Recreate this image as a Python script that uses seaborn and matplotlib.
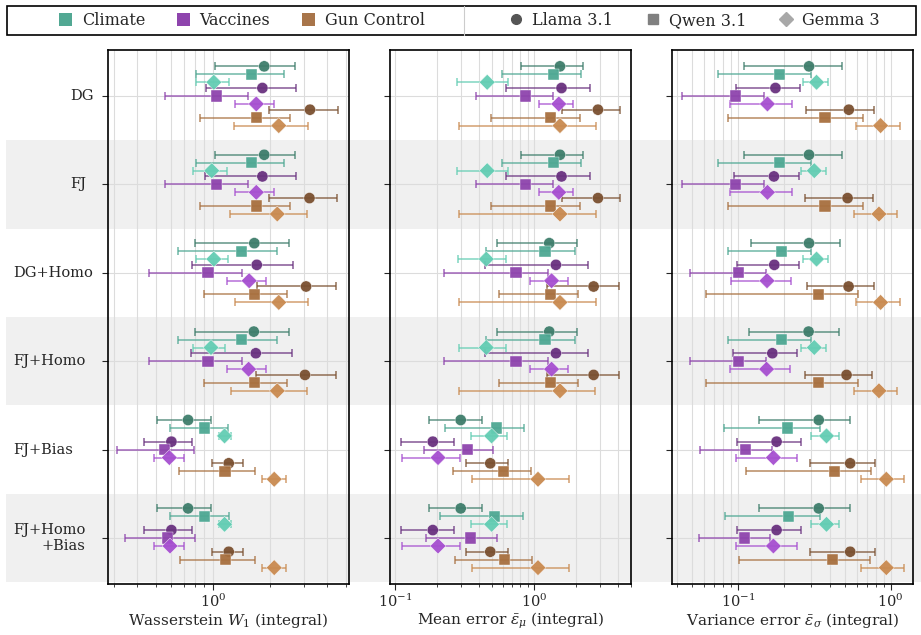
import numpy as np
import pandas as pd
import matplotlib
matplotlib.use('Agg')
import matplotlib.pyplot as plt
import matplotlib.transforms as mtransforms
from matplotlib.patches import Rectangle, Patch
from matplotlib.lines import Line2D
import seaborn as sns

# categories
methods = ['DG', 'FJ', 'DG+Homo', 'FJ+Homo', 'FJ+Bias', 'FJ+Homo\n+Bias']
topics = ['Climate', 'Vaccines', 'Gun Control']
models = ['Llama 3.1', 'Qwen 3.1', 'Gemma 3']

# each row: Climate (Llama, Qwen, Gemma), Vaccines (...), Gun Control (...)
w1_mean = [[1.86, 1.59, 1.01, 1.82, 1.04, 1.69, 3.24, 1.70, 2.22],
           [1.86, 1.59, 0.985, 1.82, 1.04, 1.69, 3.22, 1.70, 2.18],
           [1.65, 1.41, 1.01, 1.70, 0.941, 1.55, 3.09, 1.66, 2.22],
           [1.64, 1.41, 0.976, 1.68, 0.941, 1.54, 3.05, 1.66, 2.18],
           [0.739, 0.901, 1.15, 0.604, 0.557, 0.589, 1.21, 1.157, 2.10],
           [0.739, 0.901, 1.15, 0.604, 0.575, 0.594, 1.21, 1.166, 2.10]]
w1_lo = [[1.02, 0.818, 0.814, 0.918, 0.562, 1.30, 1.97, 0.859, 1.29],
         [1.02, 0.818, 0.785, 0.91, 0.562, 1.30, 1.96, 0.859, 1.23],
         [0.808, 0.654, 0.818, 0.775, 0.463, 1.19, 1.71, 0.897, 1.30],
         [0.80, 0.654, 0.788, 0.763, 0.463, 1.19, 1.68, 0.897, 1.24],
         [0.51, 0.597, 1.07, 0.432, 0.313, 0.488, 0.993, 0.66, 1.82],
         [0.51, 0.597, 1.07, 0.432, 0.346, 0.49, 0.993, 0.668, 1.82]]
w1_hi = [[2.70, 2.36, 1.21, 2.73, 1.52, 2.09, 4.53, 2.54, 3.18],
         [2.70, 2.36, 1.18, 2.72, 1.52, 2.09, 4.50, 2.54, 3.12],
         [2.51, 2.16, 1.195, 2.63, 1.42, 1.91, 4.46, 2.44, 3.16],
         [2.50, 2.17, 1.16, 2.61, 1.42, 1.91, 4.42, 2.44, 3.12],
         [0.972, 1.205, 1.25, 0.779, 0.798, 0.701, 1.43, 1.66, 2.41],
         [0.972, 1.21, 1.25, 0.779, 0.808, 0.701, 1.43, 1.66, 2.41]]

mu_mean = [[1.54, 1.38, 0.461, 1.58, 0.871, 1.51, 2.89, 1.32, 1.54],
           [1.54, 1.38, 0.461, 1.58, 0.871, 1.51, 2.89, 1.32, 1.54],
           [1.29, 1.20, 0.454, 1.44, 0.742, 1.34, 2.69, 1.32, 1.54],
           [1.29, 1.20, 0.454, 1.44, 0.742, 1.34, 2.69, 1.32, 1.54],
           [0.297, 0.535, 0.496, 0.187, 0.333, 0.204, 0.485, 0.601, 1.07],
           [0.297, 0.521, 0.496, 0.187, 0.351, 0.204, 0.485, 0.618, 1.07]]
mu_lo = [[0.802, 0.591, 0.279, 0.632, 0.38, 1.08, 1.58, 0.493, 0.29],
         [0.802, 0.591, 0.279, 0.632, 0.38, 1.08, 1.58, 0.493, 0.287],
         [0.542, 0.449, 0.285, 0.446, 0.224, 0.931, 1.25, 0.563, 0.29],
         [0.542, 0.449, 0.287, 0.448, 0.224, 0.931, 1.25, 0.563, 0.287],
         [0.177, 0.229, 0.351, 0.11, 0.162, 0.112, 0.324, 0.26, 0.36],
         [0.177, 0.212, 0.351, 0.11, 0.166, 0.112, 0.324, 0.269, 0.36]]
mu_hi = [[2.26, 2.18, 0.653, 2.54, 1.37, 1.92, 4.18, 2.14, 2.79],
         [2.26, 2.18, 0.65, 2.54, 1.37, 1.92, 4.18, 2.14, 2.79],
         [2.05, 1.96, 0.629, 2.45, 1.27, 1.76, 4.09, 2.08, 2.79],
         [2.05, 1.96, 0.629, 2.44, 1.27, 1.76, 4.09, 2.08, 2.77],
         [0.421, 0.843, 0.637, 0.266, 0.509, 0.294, 0.653, 0.946, 1.79],
         [0.421, 0.83, 0.637, 0.266, 0.539, 0.294, 0.653, 0.972, 1.79]]

sig_mean = [[0.292, 0.188, 0.327, 0.176, 0.096, 0.156, 0.532, 0.372, 0.859],
            [0.292, 0.188, 0.316, 0.172, 0.096, 0.156, 0.522, 0.372, 0.838],
            [0.292, 0.193, 0.327, 0.173, 0.1005, 0.155, 0.53, 0.338, 0.859],
            [0.29, 0.193, 0.316, 0.168, 0.1005, 0.154, 0.514, 0.338, 0.838],
            [0.338, 0.212, 0.38, 0.179, 0.1117, 0.1706, 0.543, 0.429, 0.936],
            [0.338, 0.214, 0.38, 0.179, 0.11, 0.1706, 0.543, 0.416, 0.936]]
sig_lo = [[0.109, 0.0735, 0.265, 0.0969, 0.0433, 0.0885, 0.281, 0.0867, 0.592],
          [0.109, 0.0735, 0.258, 0.094, 0.0433, 0.0885, 0.274, 0.0867, 0.572],
          [0.121, 0.0863, 0.266, 0.098, 0.0489, 0.0894, 0.285, 0.062, 0.592],
          [0.119, 0.0863, 0.26, 0.093, 0.0489, 0.0885, 0.275, 0.062, 0.572],
          [0.137, 0.0809, 0.30, 0.099, 0.0565, 0.097, 0.298, 0.1127, 0.641],
          [0.137, 0.082, 0.30, 0.099, 0.056, 0.097, 0.298, 0.102, 0.641]]
sig_hi = [[0.477, 0.301, 0.389, 0.254, 0.148, 0.225, 0.78, 0.658, 1.15],
          [0.477, 0.301, 0.378, 0.25, 0.148, 0.225, 0.769, 0.658, 1.105],
          [0.465, 0.301, 0.388, 0.25, 0.1525, 0.221, 0.773, 0.612, 1.15],
          [0.46, 0.301, 0.378, 0.244, 0.1525, 0.218, 0.757, 0.612, 1.105],
          [0.538, 0.343, 0.46, 0.26, 0.167, 0.243, 0.789, 0.746, 1.22],
          [0.538, 0.347, 0.46, 0.26, 0.163, 0.243, 0.789, 0.731, 1.22]]

metrics = ['w1', 'mu', 'sig']
xlabels = [r'Wasserstein $W_1$ (integral)',
           r'Mean error $\bar{\varepsilon}_\mu$ (integral)',
           r'Variance error $\bar{\varepsilon}_\sigma$ (integral)']
xlims = [(0.28, 5.2), (0.092, 5.0), (0.037, 1.4)]

colors = {
    ('Climate', 'Llama 3.1'): '#3e7d6b', ('Climate', 'Qwen 3.1'): '#4ea893', ('Climate', 'Gemma 3'): '#63cdb3',
    ('Vaccines', 'Llama 3.1'): '#69317f', ('Vaccines', 'Qwen 3.1'): '#8e44ad', ('Vaccines', 'Gemma 3'): '#a64fd0',
    ('Gun Control', 'Llama 3.1'): '#7a5030', ('Gun Control', 'Qwen 3.1'): '#a8703f', ('Gun Control', 'Gemma 3'): '#c98a50',
}
topic_colors = {'Climate': '#52a893', 'Vaccines': '#8e44ad', 'Gun Control': '#a8754a'}
model_markers = {'Llama 3.1': 'o', 'Qwen 3.1': 's', 'Gemma 3': 'D'}
model_grays = {'Llama 3.1': '#555555', 'Qwen 3.1': '#808080', 'Gemma 3': '#a8a8a8'}
topic_off = [-0.245, 0.0, 0.245]
model_off = [-0.09, 0.0, 0.09]

# long table
rows = []
tables = {'w1': (w1_mean, w1_lo, w1_hi), 'mu': (mu_mean, mu_lo, mu_hi), 'sig': (sig_mean, sig_lo, sig_hi)}
for met in metrics:
    mean, lo, hi = tables[met]
    for gi, meth in enumerate(methods):
        for k in range(9):
            t, m = k // 3, k % 3
            rows.append(dict(metric=met, method=meth, topic=topics[t], model=models[m],
                             combo=topics[t] + '|' + models[m],
                             mean=mean[gi][k], lo=lo[gi][k], hi=hi[gi][k],
                             y=gi + topic_off[t] + model_off[m]))
df = pd.DataFrame(rows)
palette = {t + '|' + m: colors[(t, m)] for t in topics for m in models}

sns.set_style('ticks')
plt.rcParams['font.family'] = ['DejaVu Serif']
plt.rcParams['mathtext.fontset'] = 'dejavuserif'

fig = plt.figure(figsize=(9.21, 6.35), dpi=100)
W, H = 921, 635
axes = []
for left in [108, 390, 672]:
    axes.append(fig.add_axes([left / W, 51 / H, 241 / W, 534 / H]))

for ax, met, xl, lim in zip(axes, metrics, xlabels, xlims):
    sub = df[df.metric == met]
    for combo, g in sub.groupby('combo'):
        ax.errorbar(g['mean'], g['y'], xerr=[g['mean'] - g['lo'], g['hi'] - g['mean']],
                    fmt='none', ecolor=palette[combo], elinewidth=1.2, capsize=3,
                    capthick=1.2, alpha=0.75, zorder=2)
    sns.scatterplot(data=sub, x='mean', y='y', hue='combo', palette=palette,
                    style='model', markers=model_markers, s=65, alpha=0.95,
                    edgecolor='white', linewidth=0.3, legend=False, ax=ax, zorder=3)
    ax.set_xscale('log')
    ax.set_xlim(*lim)
    ax.set_ylim(5.52, -0.52)
    ax.set_yticks(range(len(methods)))
    ax.set_yticklabels([])
    ax.set_facecolor('none')
    ax.grid(True, which='both', axis='x', color='#dcdcdc', lw=0.8)
    ax.grid(True, which='major', axis='y', color='#dcdcdc', lw=0.8)
    ax.set_axisbelow(True)
    ax.set_xlabel(xl, fontsize=11, labelpad=1)
    ax.set_ylabel('')
    ax.tick_params(axis='x', which='major', labelsize=10.5, length=4, pad=2)
    ax.tick_params(axis='x', which='minor', length=2.5)
    ax.tick_params(axis='y', length=4)
    for s in ax.spines.values():
        s.set_color('black')
        s.set_linewidth(1.2)

# alternating row bands across the figure
blend = mtransforms.blended_transform_factory(fig.transFigure, axes[0].transData)
for gi in range(len(methods)):
    if gi % 2 == 1:
        fig.add_artist(Rectangle((6 / W, gi - 0.5), 1 - 6 / W, 1.0, transform=blend,
                                 facecolor='#f0f0f0', edgecolor='none', zorder=-1))

# row labels
label_x = [70, 70, 13, 13, 13, 13]
for gi, (meth, lx) in enumerate(zip(methods, label_x)):
    fig.text(lx / W, gi, meth, transform=blend, ha='left', va='center',
             multialignment='right', fontsize=10.5)

# legend
fig.add_artist(Rectangle((7 / W, 1 - 35 / H), 909 / W, 29 / H, transform=fig.transFigure,
                         fill=False, edgecolor='black', lw=1.2))
fig.add_artist(Line2D([464 / W, 464 / W], [1 - 35 / H, 1 - 6 / H], color='#cccccc',
                      lw=0.8, transform=fig.transFigure))
topic_handles = [Patch(facecolor=topic_colors[t], edgecolor='none', label=t) for t in topics]
model_handles = [Line2D([], [], marker=model_markers[m], ls='none', color=model_grays[m],
                        markersize=7, label=m) for m in models]
fig.legend(handles=topic_handles, loc='center', bbox_to_anchor=(242 / W, 1 - 20.5 / H),
           ncol=3, frameon=False, handlelength=0.8, handleheight=0.8, handletextpad=0.6,
           columnspacing=2.0, fontsize=11.5)
fig.legend(handles=model_handles, loc='center', bbox_to_anchor=(694 / W, 1 - 20.5 / H),
           ncol=3, frameon=False, handlelength=1.0, handletextpad=0.5,
           columnspacing=2.0, fontsize=11.5)

fig.savefig('out.png', dpi=100)
